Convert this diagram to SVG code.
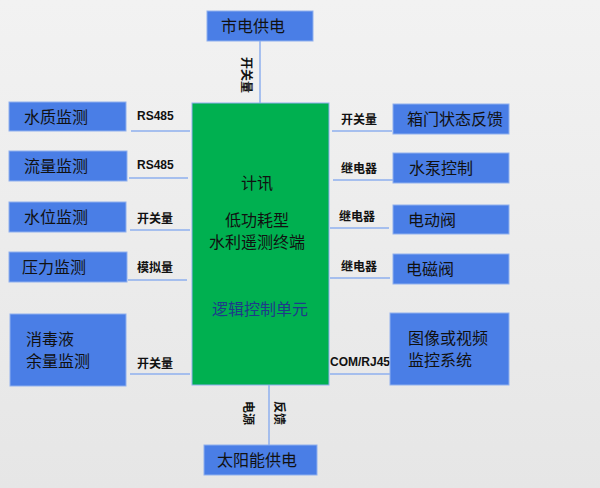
<svg xmlns="http://www.w3.org/2000/svg" width="600" height="488" viewBox="0 0 600 488">
<defs><linearGradient id="bg" x1="0" y1="0" x2="0" y2="1"><stop offset="0" stop-color="#f2f2f2"/><stop offset="1" stop-color="#e6e6e6"/></linearGradient></defs>
<style>
.b{fill:#4a7ee6;stroke:#8fb0ee;stroke-width:1}
.t{font-family:"Noto Sans CJK SC","Liberation Sans",sans-serif;font-size:16px;fill:#111}
.l{font-family:"Liberation Sans","Noto Sans CJK SC",sans-serif;font-size:12px;font-weight:bold;fill:#111}
.c{stroke:#8fb0ee;stroke-width:1.5;fill:none}
.g{font-family:"Noto Sans CJK SC",sans-serif;font-size:16px;fill:#111;text-anchor:middle}
</style>
<rect width="600" height="488" fill="url(#bg)"/>
<g id="connectors">
<path class="c" d="M260 41V103M269 385V445M131 131H190M129 178H188M130 230H190M128 280H187M130 374H190M332 131H392M333 180H393M330 228H389M330 278H390M330 374H390"/>
</g>
<g id="labels">
<text class="l" x="137" y="120">RS485</text>
<text class="l" x="137" y="169">RS485</text>
<text class="l" x="137" y="223">开关量</text>
<text class="l" x="137" y="272">模拟量</text>
<text class="l" x="137" y="368">开关量</text>
<text class="l" x="341" y="124">开关量</text>
<text class="l" x="341" y="173">继电器</text>
<text class="l" x="339" y="221">继电器</text>
<text class="l" x="341" y="271">继电器</text>
<text class="l" x="330" y="366">COM/RJ45</text>
<text class="l" transform="translate(242,57) rotate(90)">开关量</text>
<text class="l" transform="translate(244,401) rotate(90)">电源</text>
<text class="l" transform="translate(275,401) rotate(90)">反馈</text>
</g>
<g id="core"><rect x="192" y="103" width="137" height="282" fill="#00b050" stroke="#8fb0ee"/>
<text class="g" x="257" y="189">计讯</text>
<text class="g" x="257" y="226">低功耗型</text>
<text class="g" x="257" y="248">水利遥测终端</text>
<text class="g" x="260" y="315" style="fill:#1f3a8a">逻辑控制单元</text></g>
<g id="n1"><rect class="b" x="207" y="11" width="106" height="30"/><text class="t" x="221" y="32">市电供电</text></g>
<g id="n2"><rect class="b" x="9" y="102" width="117" height="29"/><text class="t" x="24" y="123">水质监测</text></g>
<g id="n3"><rect class="b" x="9" y="151" width="118" height="30"/><text class="t" x="24" y="172">流量监测</text></g>
<g id="n4"><rect class="b" x="9" y="202" width="117" height="30"/><text class="t" x="24" y="223">水位监测</text></g>
<g id="n5"><rect class="b" x="9" y="252" width="118" height="30"/><text class="t" x="22" y="273">压力监测</text></g>
<g id="n6"><rect class="b" x="10" y="314" width="116" height="72"/><text class="t" x="26" y="345">消毒液</text><text class="t" x="26" y="367">余量监测</text></g>
<g id="n7"><rect class="b" x="393" y="104" width="116" height="30"/><text class="t" x="407" y="125">箱门状态反馈</text></g>
<g id="n8"><rect class="b" x="393" y="153" width="116" height="30"/><text class="t" x="409" y="174">水泵控制</text></g>
<g id="n9"><rect class="b" x="393" y="205" width="116" height="29"/><text class="t" x="408" y="226">电动阀</text></g>
<g id="n10"><rect class="b" x="393" y="254" width="116" height="30"/><text class="t" x="406" y="275">电磁阀</text></g>
<g id="n11"><rect class="b" x="390" y="313" width="119" height="72"/><text class="t" x="408" y="344">图像或视频</text><text class="t" x="408" y="366">监控系统</text></g>
<g id="n12"><rect class="b" x="204" y="445" width="113" height="30"/><text class="t" x="217" y="466">太阳能供电</text></g>
</svg>
